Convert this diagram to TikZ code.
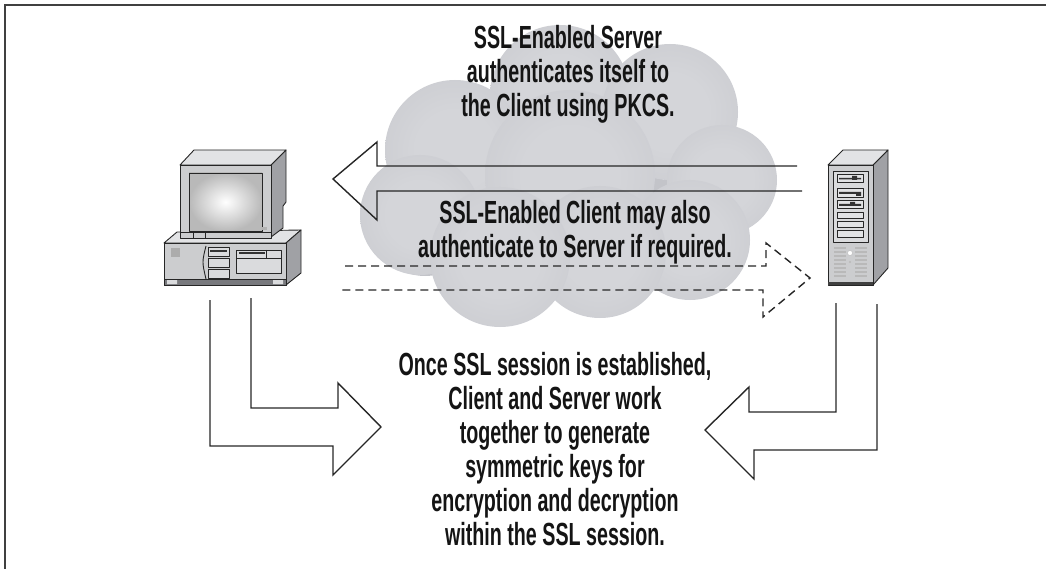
\documentclass[tikz,border=0pt]{standalone}
\usepackage{fontspec}
\setmainfont[FakeStretch=0.615]{Liberation Sans}

\definecolor{cloudhi}{RGB}{212,213,217}
\definecolor{cloudlo}{RGB}{195,196,201}
\definecolor{cloudrim}{RGB}{206,207,211}
\definecolor{pcface}{RGB}{204,205,207}
\definecolor{pctop}{RGB}{226,227,229}
\definecolor{pcside}{RGB}{160,161,165}
\definecolor{pclight}{RGB}{218,219,221}
\definecolor{pcdark}{RGB}{120,121,125}

\pgfdeclareradialshading{cloudlobe}{\pgfpoint{0bp}{0bp}}{%
  color(0bp)=(cloudhi); color(14bp)=(cloudhi); color(46bp)=(cloudlo);
  color(50bp)=(cloudrim)}

\tikzstyle{caption}=[align=center,
    inner sep=0pt,
    anchor=north,
    text=black!92,
    font=\fontsize{32}{34}\selectfont\bfseries]
\tikzstyle{hollow}=[draw=black!85, line width=1.4pt, line join=miter]
\tikzstyle{dashhollow}=[hollow, dash pattern=on 8pt off 5pt]
\tikzstyle{case}=[draw=black!85, line width=0.9pt, line join=round]
\tikzstyle{lobe}=[shading=cloudlobe]

\begin{document}
\begin{tikzpicture}[x=1pt,y=-1pt]
\useasboundingbox (0,0) rectangle (1046,569);
\draw[line width=2pt, black!75] (5,569) -- (5,5) -- (1046,5);

% cloud behind the captions
\fill[cloudlo] (460,160) circle[radius=60pt] (565,100) circle[radius=62pt]
    (665,115) circle[radius=62pt] (570,200) circle[radius=95pt] (715,185) circle[radius=52pt]
    (425,220) circle[radius=56pt] (500,255) circle[radius=66pt] (690,238) circle[radius=58pt];
\foreach \cx/\cy/\r in {560/95/70, 670/112/68, 455/150/70, 570/175/85,
                        722/180/55, 420/215/60, 690/240/60, 600/252/66, 500/257/70}
    \shade[lobe] (\cx,\cy) circle[radius=\r pt];

% client
\draw[case, fill=pctop] (164,243) -- (177,232) -- (301,230) -- (286,243) -- cycle;
\draw[case, fill=pcside] (286,243) -- (301,230) -- (301,273) -- (286,285) -- cycle;
\draw[case, fill=pcface] (164,243) rectangle (286,285);
\draw[case, fill=pcdark] (164,279) rectangle (286,285);
\fill[pclight] (167,280) rectangle (177,284) (273,280) rectangle (283,284);
\fill[gray!65] (171,248) rectangle (180,257);
\draw[case] (206,246) .. controls (202,262) .. (206,279);
\foreach \top/\bot in {247/256, 258/267, 269/278}
    \draw[case, fill=pclight] (208,\top) rectangle (229,\bot);
\fill[black!80] (210,250) rectangle (227,252.5);
\draw[case, fill=pclight] (236,250) rectangle (281,273);
\draw[case] (236,258) -- (281,258) (266,250) -- (266,258);
\fill[black!80] (239,252.5) rectangle (265,254.5);

\draw[case, fill=pcside] (271,165) -- (286,150) -- (286,202) -- (283,206) -- (283,228) -- (271,237) -- cycle;
\draw[case, fill=pctop] (180,165) -- (194,150) -- (286,150) -- (271,165) -- cycle;
\draw[case, fill=pcface] (180,165) rectangle (271,238);
\draw[case, inner color=white, outer color=gray!55] (189,173) rectangle (262,231);
\draw[case] (180,232) -- (271,232) (193,232) -- (193,238) (205,232) -- (205,238);
\fill[gray!60] (262,227) rectangle (267,230);

% server
\draw[case, fill=pcside] (873,165) -- (888,150) -- (888,268) -- (873,285) -- cycle;
\draw[case, fill=pctop] (828,165) -- (843,150) -- (888,150) -- (873,165) -- cycle;
\draw[case, fill=pcface] (828,165) rectangle (873,285);
\fill[black!75] (828,282) rectangle (873,285);
\draw[case, fill=pclight] (833,171) rectangle (868,242);
\foreach \top/\bot in {174/182, 188/197, 200/208, 212/218, 221/227, 230/237}
    \draw[case, fill=pctop] (837,\top) rectangle (863,\bot);
\fill[black!80] (839,178) rectangle (861,179.5) (839,192) rectangle (861,194)
                (839,204) rectangle (861,206);
\fill[black!80] (852,176) rectangle (857,180) (856,194) rectangle (861,196)
                (850,202) rectangle (855,205);
\foreach \y in {248,252,...,276}
    \draw[gray!55, line width=1.3pt] (834,\y) -- (846,\y) (855,\y) -- (867,\y);
\draw[gray!55, fill=white] (850,253) circle[radius=2.5pt];
\fill[gray!55] (850,262) circle[radius=1.2pt];

% server to client
\draw[hollow] (797,166) -- (377,166) -- (377,142) -- (333,179) -- (377,220) -- (377,191) -- (802,191);
% client to server, optional
\draw[dashhollow] (345,266) -- (766,266) -- (766,243) -- (810,278) -- (763,317) -- (763,290) -- (340,290);
% both ends feed the session
\draw[hollow] (251,298) -- (251,408) -- (338,408) -- (338,383) -- (381,427) -- (333,475) -- (333,446) -- (210,446) -- (210,300);
\draw[hollow] (836,303) -- (836,412) -- (749,412) -- (749,387) -- (705,430) -- (754,479) -- (754,450) -- (877,450) -- (877,304);

\node[caption] (servertext) at (568,25) {SSL-Enabled Server\\authenticates itself to\\the Client using PKCS.};
\node[caption] (clienttext) at (575,200) {SSL-Enabled Client may also\\authenticate to Server if required.};
\node[caption] (sessiontext) at (555,352) {Once SSL session is established,\\Client and Server work\\together to generate\\symmetric keys for\\encryption and decryption\\within the SSL session.};
\end{tikzpicture}
\end{document}
